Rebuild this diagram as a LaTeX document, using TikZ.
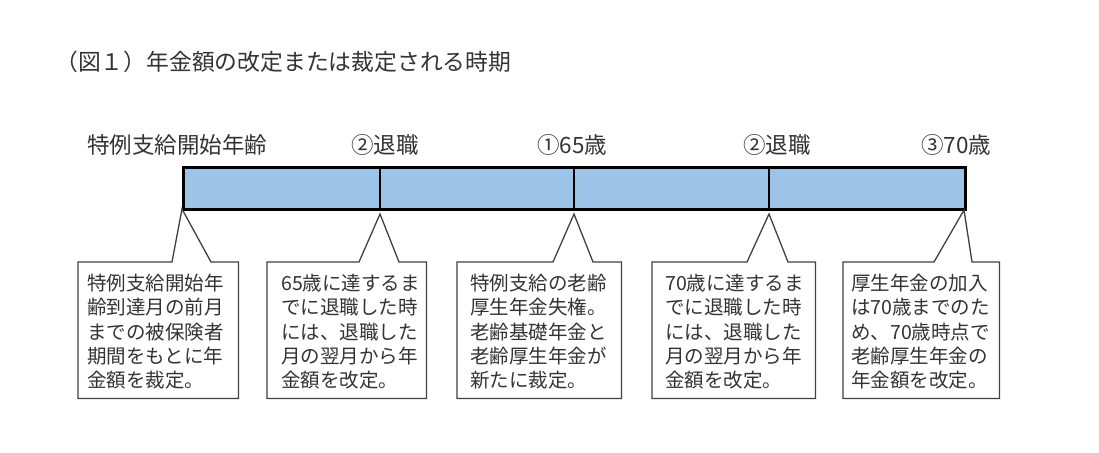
\documentclass[tikz,border=0pt]{standalone}
\usepackage{fontspec}
\setmainfont{Noto Sans CJK JP}
\definecolor{barblue}{HTML}{9DC3E6}
\definecolor{txt}{HTML}{333333}
\definecolor{edge}{HTML}{404040}
\begin{document}
\begin{tikzpicture}[x=1pt,y=-1pt,
  bar/.style={fill=barblue,draw=black,line width=2.5pt,inner sep=0pt,anchor=north west,minimum width=782pt,minimum height=42pt},
  divider/.style={draw=black,line width=1.2pt},
  boxarea/.style={anchor=north west,inner sep=0pt,minimum height=136pt},
  callout/.style={draw=edge,line width=1.3pt,line join=miter},
  boxtext/.style={anchor=north west,inner sep=0pt,align=left,font=\fontsize{19.5}{24.3}\selectfont,text=txt},
  lbl/.style={inner sep=0pt,font=\fontsize{22.5}{26}\selectfont,text=txt},
  ttl/.style={anchor=west,inner sep=0pt,font=\fontsize{22.8}{26}\selectfont,text=txt},
  ]
\useasboundingbox (0,0) rectangle (1099,452);

% title
\node[ttl] (title) at (55,62) {（図１）年金額の改定または裁定される時期};

% labels above the bar
\node[lbl] (l0) at (177,145) {特例支給開始年齢};
\node[lbl] (l1) at (385,145) {②退職};
\node[lbl] (l2) at (572,145) {①65歳};
\node[lbl] (l3) at (777,145) {②退職};
\node[lbl] (l4) at (956,145) {③70歳};

% bar
\node[bar] (bar) at (182,166) {};
\draw[divider] (380,166) -- (380,208);
\draw[divider] (574,166) -- (574,208);
\draw[divider] (769,166) -- (769,208);

% tips of the callouts
\coordinate (t1) at (182,209);
\coordinate (t2) at (380,214);
\coordinate (t3) at (574,214);
\coordinate (t4) at (769,214);
\coordinate (t5) at (964,210);

% callout areas
\node[boxarea,minimum width=160pt] (b1) at (78,262) {};
\node[boxarea,minimum width=159pt] (b2) at (267,262) {};
\node[boxarea,minimum width=164pt] (b3) at (457,262) {};
\node[boxarea,minimum width=163pt] (b4) at (652,262) {};
\node[boxarea,minimum width=156pt] (b5) at (843,262) {};

\draw[callout] (b1.north west) -- (172,262) -- (t1) -- (211,262) -- (b1.north east) -- (b1.south east) -- (b1.south west) -- cycle;
\draw[callout] (b2.north west) -- (359,262) -- (t2) -- (399,262) -- (b2.north east) -- (b2.south east) -- (b2.south west) -- cycle;
\draw[callout] (b3.north west) -- (553,262) -- (t3) -- (593,262) -- (b3.north east) -- (b3.south east) -- (b3.south west) -- cycle;
\draw[callout] (b4.north west) -- (747,262) -- (t4) -- (788,262) -- (b4.north east) -- (b4.south east) -- (b4.south west) -- cycle;
\draw[callout] (b5.north west) -- (934,262) -- (t5) -- (972,262) -- (b5.north east) -- (b5.south east) -- (b5.south west) -- cycle;

% callout texts
\node[boxtext] (x1) at (87,274) {特例支給開始年\\齢到達月の前月\\までの被保険者\\期間をもとに年\\金額を裁定。};
\node[boxtext] (x2) at (281,274) {65歳に達するま\\でに退職した時\\には、退職した\\月の翌月から年\\金額を改定。};
\node[boxtext] (x3) at (470,274) {特例支給の老齢\\厚生年金失権。\\老齢基礎年金と\\老齢厚生年金が\\新たに裁定。};
\node[boxtext] (x4) at (665,274) {70歳に達するま\\でに退職した時\\には、退職した\\月の翌月から年\\金額を改定。};
\node[boxtext] (x5) at (851,274) {厚生年金の加入\\は70歳までのた\\め、70歳時点で\\老齢厚生年金の\\年金額を改定。};
\end{tikzpicture}
\end{document}
